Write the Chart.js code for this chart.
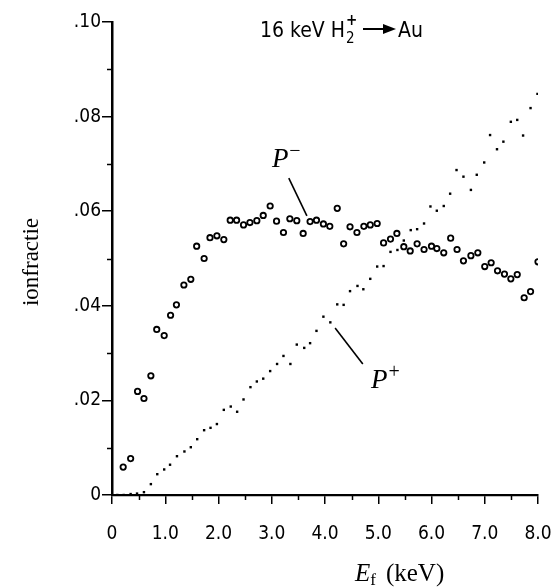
<!DOCTYPE html>
<html><head><meta charset="utf-8">
<script src="https://cdn.jsdelivr.net/npm/chart.js@4.4.0/dist/chart.umd.min.js"></script>
<style>html,body{margin:0;padding:0;background:#fff;}#wrap{width:556px;height:587px;position:relative;}</style>
</head><body><div id="wrap"><canvas id="c" width="556" height="587"></canvas></div>
<script>
// P- (negative ion fraction), open circles
const energyMinus = [0.21,0.35,0.48,0.60,0.73,0.84,0.98,1.10,1.21,1.35,1.48,1.59,1.73,1.84,1.97,2.10,2.22,2.34,2.47,2.59,2.72,2.84,2.97,3.09,3.22,3.34,3.47,3.59,3.72,3.84,3.97,4.09,4.23,4.35,4.47,4.60,4.73,4.85,4.98,5.10,5.23,5.35,5.48,5.60,5.73,5.86,6.00,6.10,6.23,6.36,6.48,6.60,6.74,6.87,7.00,7.12,7.24,7.37,7.49,7.61,7.74,7.86,8.00];
const fractionMinus = [0.0059,0.0077,0.0219,0.0204,0.0252,0.0350,0.0337,0.0380,0.0402,0.0444,0.0456,0.0526,0.0500,0.0544,0.0548,0.0540,0.0581,0.0581,0.0571,0.0576,0.0580,0.0591,0.0611,0.0579,0.0555,0.0584,0.0580,0.0553,0.0578,0.0581,0.0573,0.0568,0.0606,0.0531,0.0567,0.0555,0.0568,0.0571,0.0574,0.0533,0.0541,0.0553,0.0525,0.0516,0.0531,0.0519,0.0526,0.0521,0.0512,0.0543,0.0519,0.0495,0.0506,0.0512,0.0483,0.0491,0.0474,0.0467,0.0457,0.0466,0.0417,0.0430,0.0493];
// P+ (positive ion fraction), small filled squares
const energyPlus = [0.10,0.22,0.35,0.47,0.60,0.73,0.85,0.98,1.09,1.22,1.36,1.48,1.60,1.73,1.85,1.97,2.10,2.23,2.35,2.47,2.60,2.72,2.84,2.97,3.10,3.22,3.35,3.47,3.61,3.72,3.84,3.97,4.10,4.23,4.35,4.47,4.61,4.72,4.85,4.98,5.10,5.23,5.36,5.48,5.61,5.73,5.86,5.98,6.10,6.23,6.35,6.47,6.60,6.74,6.85,6.99,7.10,7.23,7.35,7.49,7.61,7.72,7.86,7.99];
const fractionPlus = [0.0000,0.0000,0.0002,0.0003,0.0006,0.0023,0.0044,0.0054,0.0064,0.0082,0.0092,0.0101,0.0118,0.0137,0.0142,0.0150,0.0180,0.0187,0.0176,0.0202,0.0228,0.0240,0.0246,0.0262,0.0277,0.0294,0.0277,0.0318,0.0311,0.0321,0.0347,0.0377,0.0365,0.0403,0.0402,0.0431,0.0442,0.0435,0.0457,0.0483,0.0484,0.0514,0.0518,0.0538,0.0560,0.0562,0.0574,0.0610,0.0601,0.0611,0.0637,0.0687,0.0673,0.0645,0.0677,0.0703,0.0761,0.0731,0.0747,0.0789,0.0793,0.0760,0.0818,0.0848];
// axis ticks
const xTickValues = [0,1,2,3,4,5,6,7,8];
const xTickLabels = ['0','1.0','2.0','3.0','4.0','5.0','6.0','7.0','8.0'];
const xMinorTicks = [0.5,1.5,2.5,3.5,4.5,5.5,6.5,7.5];
const yTickValues = [0,0.02,0.04,0.06,0.08,0.10];
const yTickLabels = ['0','.02','.04','.06','.08','.10'];
const yMinorTicks = [0.01,0.03,0.05,0.07,0.09];
const titleText = {pre:'16 keV H', sub:'2', sup:'+', post:'Au'};
const yTitle = 'ionfractie';
// annotation labels in data coordinates
const labelMinus = {x:3.27, y:0.0708, line:[[3.32,0.0670],[3.66,0.0590]]};
const labelPlus = {x:5.13, y:0.0241, line:[[4.19,0.0353],[4.71,0.0277]]};

const sansFam = '"DejaVu Sans Condensed", "Liberation Sans", sans-serif';
const tickFont = {family:sansFam, size:19};

const deco = {
  id:'deco',
  afterDraw(chart){
    const ctx = chart.ctx, xs = chart.scales.x, ys = chart.scales.y;
    ctx.save();
    ctx.strokeStyle = '#000'; ctx.fillStyle = '#000';
    // minor ticks
    ctx.lineWidth = 1.5;
    yMinorTicks.forEach(v=>{const p=Math.round(ys.getPixelForValue(v))+0.5;ctx.beginPath();ctx.moveTo(xs.left-5,p);ctx.lineTo(xs.left,p);ctx.stroke();});
    xMinorTicks.forEach(v=>{const p=Math.round(xs.getPixelForValue(v))+0.5;ctx.beginPath();ctx.moveTo(p,ys.bottom);ctx.lineTo(p,ys.bottom+5);ctx.stroke();});
    // title
    ctx.textBaseline = 'alphabetic'; ctx.textAlign = 'left';
    let x = 260, base = 37;
    ctx.font = '21px ' + sansFam;
    ctx.fillText(titleText.pre, x, base);
    x += ctx.measureText(titleText.pre).width + 1;
    ctx.font = '15px ' + sansFam;
    ctx.fillText(titleText.sub, x, base+6);
    ctx.font = 'bold 15px ' + sansFam;
    ctx.fillText(titleText.sup, x, base-12);
    x += 17;
    // arrow
    ctx.lineWidth = 2;
    ctx.beginPath(); ctx.moveTo(x, base-8); ctx.lineTo(x+24, base-8); ctx.stroke();
    ctx.beginPath(); ctx.moveTo(x+33, base-8); ctx.lineTo(x+20, base-13); ctx.lineTo(x+20, base-3); ctx.closePath(); ctx.fill();
    x += 35;
    ctx.font = '21px ' + sansFam;
    ctx.fillText(titleText.post, x, base);
    // y axis title
    ctx.save();
    ctx.translate(38, 262); ctx.rotate(-Math.PI/2);
    ctx.font = '23px "Liberation Serif", "DejaVu Serif", serif';
    ctx.textAlign = 'center';
    ctx.fillText(yTitle, 0, 0);
    ctx.restore();
    // x axis title: E_f (keV)
    ctx.font = 'italic 25px "Liberation Serif", serif';
    ctx.textAlign = 'left';
    let ex = 355, eb = 581;
    ctx.fillText('E', ex, eb);
    ex += ctx.measureText('E').width;
    ctx.font = '17px "Liberation Serif", serif';
    ctx.fillText('f', ex, eb+4);
    ex += ctx.measureText('f').width + 10;
    ctx.font = '25px "Liberation Serif", serif';
    ctx.fillText('(keV)', ex, eb);
    // annotations
    const drawLabel = (lab, sup) => {
      const px = xs.getPixelForValue(lab.x), py = ys.getPixelForValue(lab.y);
      ctx.font = 'italic 27px "Liberation Serif", serif';
      ctx.textAlign = 'center'; ctx.textBaseline = 'middle';
      ctx.fillText('P', px-6, py);
      const w = ctx.measureText('P').width;
      ctx.font = '20px "Liberation Serif", serif';
      ctx.textAlign = 'left';
      ctx.fillText(sup, px-6+w/2+1, py-8);
      ctx.lineWidth = 1.6;
      ctx.beginPath();
      ctx.moveTo(xs.getPixelForValue(lab.line[0][0]), ys.getPixelForValue(lab.line[0][1]));
      ctx.lineTo(xs.getPixelForValue(lab.line[1][0]), ys.getPixelForValue(lab.line[1][1]));
      ctx.stroke();
    };
    drawLabel(labelMinus, '\u2212');
    drawLabel(labelPlus, '+');
    ctx.restore();
  }
};

new Chart(document.getElementById('c'), {
  type:'scatter',
  data:{datasets:[
    {label:'P-', data:energyMinus.map((e,i)=>({x:e,y:fractionMinus[i]})), pointStyle:'circle', pointRadius:2.7, pointBorderWidth:1.8, borderColor:'#000', backgroundColor:'#fff', showLine:false},
    {label:'P+', data:energyPlus.map((e,i)=>({x:e,y:fractionPlus[i]})), pointStyle:'rect', pointRadius:1.7, pointBorderWidth:0, borderColor:'#000', backgroundColor:'#000', showLine:false}
  ]},
  options:{
    responsive:false, animation:false, devicePixelRatio:1,
    layout:{padding:{top:22,right:18,left:0,bottom:0}},
    plugins:{legend:{display:false}, tooltip:{enabled:false}},
    scales:{
      x:{type:'linear', min:0, max:8,
        afterBuildTicks:s=>{s.ticks = xTickValues.map(v=>({value:v}));},
        afterFit:s=>{s.height = 92; s.paddingLeft = 0; s.paddingRight = 0;},
        ticks:{callback:(v,i)=>xTickLabels[i], font:tickFont, color:'#000', padding:19, maxRotation:0, autoSkip:false},
        grid:{drawOnChartArea:false, drawTicks:true, tickLength:9, color:'#000', lineWidth:1.5},
        border:{display:true, color:'#000', width:2.2}
      },
      y:{type:'linear', min:0, max:0.10,
        afterBuildTicks:s=>{s.ticks = yTickValues.map(v=>({value:v}));},
        afterFit:s=>{s.width = 112; s.paddingTop = 0; s.paddingBottom = 0;},
        ticks:{callback:(v,i)=>yTickLabels[i], font:tickFont, color:'#000', padding:1, autoSkip:false},
        grid:{drawOnChartArea:false, drawTicks:true, tickLength:10, color:'#000', lineWidth:1.5},
        border:{display:true, color:'#000', width:2.5}
      }
    }
  },
  plugins:[deco]
});
</script></body></html>
